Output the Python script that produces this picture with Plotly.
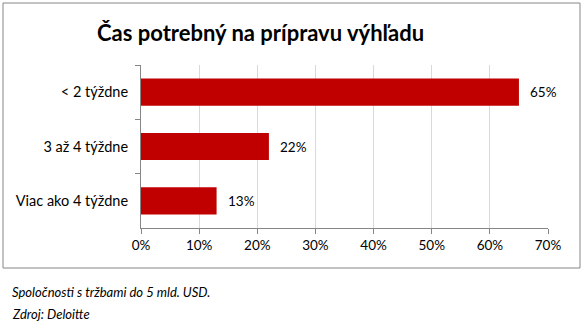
import plotly.graph_objects as go

categories = ["< 2 týždne", "3 až 4 týždne", "Viac ako 4 týždne"]
values = [0.65, 0.22, 0.13]
x_ticks = [0, 0.1, 0.2, 0.3, 0.4, 0.5, 0.6, 0.7]
title = "Čas potrebný na prípravu výhľadu"
notes = ["Spoločnosti s tržbami do 5 mld. USD.", "Zdroj: Deloitte"]

W, H = 585, 325
L, R, T, B = 141, 548, 65, 228

def px(x):
    return (x - L) / (R - L)

def py(y):
    return (B - y) / (B - T)

FONT = "Lato"

fig = go.Figure(go.Bar(
    x=values, y=categories, orientation="h",
    marker=dict(color="#c00000", line=dict(width=0)),
    width=0.5,
))

label_annotations = [
    dict(text=f"{round(v*100)}%", x=v, y=c, xref="x", yref="y",
         xanchor="left", yanchor="middle", xshift=9, showarrow=False,
         font=dict(family=FONT, size=13.5, color="#000000"))
    for c, v in zip(categories, values)
]

fig.update_layout(
    width=W, height=H,
    margin=dict(l=L, r=W - R, t=T, b=H - B),
    paper_bgcolor="white", plot_bgcolor="white",
    showlegend=False,
    font=dict(family=FONT, size=13, color="#000000"),
    xaxis=dict(range=[0, 0.7], tickvals=x_ticks, tickformat=".0%",
               showgrid=True, gridcolor="#d9d9d9", gridwidth=1,
               showline=True, linecolor="#868686", linewidth=1,
               ticks="outside", ticklen=5, tickcolor="#868686",
               zeroline=False, tickfont=dict(size=13.5)),
    yaxis=dict(categoryorder="array", categoryarray=categories,
               autorange="reversed", tickson="boundaries",
               showline=True, linecolor="#868686", linewidth=1,
               ticks="outside", ticklen=5, tickcolor="#868686",
               ticklabelstandoff=9,
               showgrid=False, tickfont=dict(size=14.5)),
    shapes=[dict(type="rect", xref="paper", yref="paper",
                 x0=px(3), x1=px(580), y0=py(268), y1=py(3),
                 line=dict(color="#868686", width=1), fillcolor="rgba(0,0,0,0)",
                 layer="below")],
    annotations=label_annotations + [
        dict(text=f"<b>{title}</b>", xref="paper", yref="paper",
             x=px(260), y=py(32), xanchor="center", yanchor="middle",
             showarrow=False, font=dict(family=FONT, size=22, color="#000000")),
        dict(text=f"<i>{notes[0]}</i>", xref="paper", yref="paper",
             x=px(10), y=py(292), xanchor="left", yanchor="middle",
             showarrow=False, font=dict(family=FONT, size=13, color="#000000")),
        dict(text=f"<i>{notes[1]}</i>", xref="paper", yref="paper",
             x=px(10), y=py(314), xanchor="left", yanchor="middle",
             showarrow=False, font=dict(family=FONT, size=13, color="#000000")),
    ],
)

fig.write_html("out.html")
